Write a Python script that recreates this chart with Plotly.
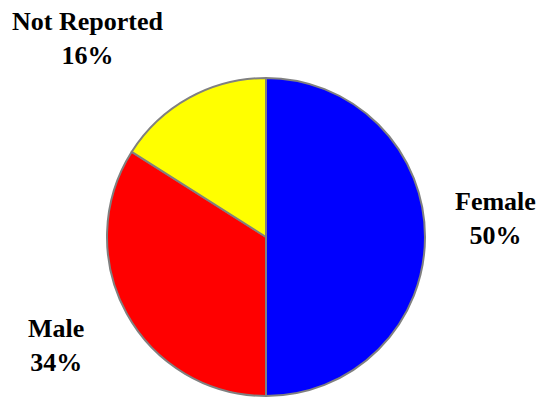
import plotly.graph_objects as go

labels = ["Female", "Male", "Not Reported"]
values = [50, 34, 16]
colors = ["#0000FF", "#FF0000", "#FFFF00"]

# label anchor positions (pixels in a 542x397 canvas)
label_px = {"Female": (495, 218), "Male": (56, 345), "Not Reported": (87, 38)}

W, H = 542, 397
cx, cy, r = 266, 237, 159

fig = go.Figure(go.Pie(
    labels=labels,
    values=values,
    sort=False,
    direction="clockwise",
    rotation=0,
    marker=dict(colors=colors, line=dict(color="#808080", width=2)),
    textinfo="none",
    hoverinfo="label+percent",
    showlegend=False,
    domain=dict(x=[(cx - r) / W, (cx + r) / W],
                y=[(H - cy - r) / H, (H - cy + r) / H]),
))

total = sum(values)
for lab, val in zip(labels, values):
    px, py = label_px[lab]
    fig.add_annotation(
        x=px / W, y=1 - py / H, xref="paper", yref="paper",
        text=f"<b>{lab}<br>{round(100 * val / total)}%</b>",
        showarrow=False, xanchor="center", yanchor="middle",
        font=dict(family="Liberation Serif", size=26, color="black"),
    )

fig.update_layout(
    width=W, height=H,
    margin=dict(l=0, r=0, t=0, b=0),
    paper_bgcolor="white", plot_bgcolor="white",
)

fig.write_html("out.html")
